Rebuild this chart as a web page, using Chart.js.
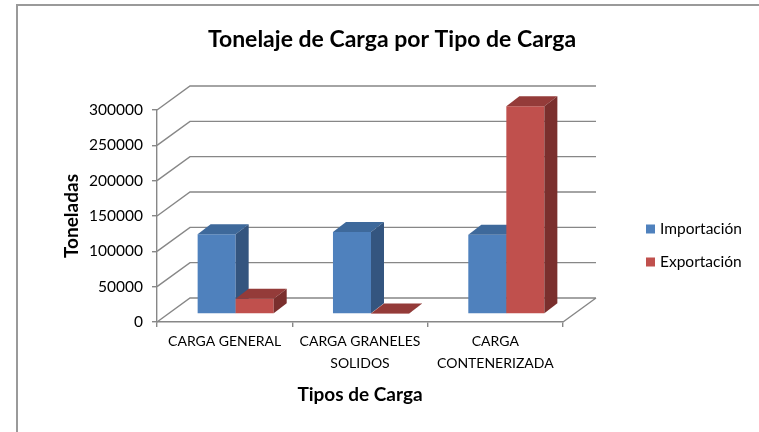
<!DOCTYPE html>
<html><head><meta charset="utf-8">
<script src="https://cdn.jsdelivr.net/npm/chart.js@4"></script>
<style>html,body{margin:0;padding:0;background:#fff}</style>
</head><body>
<canvas id="c" width="759" height="432"></canvas>
<script>
const chartTitle = 'Tonelaje de Carga por Tipo de Carga';
const xAxisTitle = 'Tipos de Carga';
const yAxisTitle = 'Toneladas';
const categories = [['CARGA GENERAL'], ['CARGA GRANELES', 'SOLIDOS'], ['CARGA', 'CONTENERIZADA']];
const seriesNames = ['Importación', 'Exportación'];
const importacion = [113000, 116000, 112000];
const exportacion = [21500, 800, 294000];
const yTicks = [0, 50000, 100000, 150000, 200000, 250000, 300000];

const FONT = 'Lato, "Open Sans", sans-serif';
const GRID = '#878787';
const BACK = {dx: 33, dy: -24};
const BAR_OFF = {dx: 11, dy: -8};
const SIDE = {dx: 13, dy: -10};
const faces = [
  {front: '#4F81BD', top: '#3E699B', side: '#34557F'},
  {front: '#C0504D', top: '#943B39', side: '#7A2F2D'}
];

const threeD = {
  id: 'threeD',
  beforeDraw(chart) {
    const ctx = chart.ctx;
    ctx.save();
    ctx.fillStyle = '#fff';
    ctx.fillRect(0, 0, chart.width, chart.height);
    ctx.strokeStyle = '#9a9a9a';
    ctx.lineWidth = 2;
    ctx.strokeRect(17, 5, chart.width + 20, chart.height + 20);
    ctx.restore();
  },
  beforeDatasetsDraw(chart) {
    const {ctx, chartArea: a, scales: {x, y}} = chart;
    ctx.save();
    ctx.strokeStyle = GRID;
    ctx.lineWidth = 1.4;
    ctx.beginPath();
    yTicks.forEach(v => {
      const py = y.getPixelForValue(v);
      ctx.moveTo(a.left, py);
      ctx.lineTo(a.left + BACK.dx, py + BACK.dy);
      ctx.lineTo(a.right + BACK.dx, py + BACK.dy);
    });
    const p0 = y.getPixelForValue(0);
    ctx.moveTo(a.right, p0);
    ctx.lineTo(a.right + BACK.dx, p0 + BACK.dy);
    ctx.stroke();
    ctx.restore();

    ctx.save();
    ctx.translate(BAR_OFF.dx, BAR_OFF.dy);
    const n = chart.data.labels.length;
    for (let i = 0; i < n; i++) {
      chart.data.datasets.forEach((ds, d) => {
        const el = chart.getDatasetMeta(d).data[i];
        if (!el) return;
        const {x: bx, y: by, base, width} = el.getProps(['x', 'y', 'base', 'width'], true);
        const l = bx - width / 2, r = bx + width / 2;
        el.draw(ctx);
        ctx.fillStyle = faces[d].top;
        ctx.beginPath();
        ctx.moveTo(l, by); ctx.lineTo(r, by);
        ctx.lineTo(r + SIDE.dx, by + SIDE.dy); ctx.lineTo(l + SIDE.dx, by + SIDE.dy);
        ctx.closePath(); ctx.fill();
        ctx.fillStyle = faces[d].side;
        ctx.beginPath();
        ctx.moveTo(r, by); ctx.lineTo(r + SIDE.dx, by + SIDE.dy);
        ctx.lineTo(r + SIDE.dx, base + SIDE.dy); ctx.lineTo(r, base);
        ctx.closePath(); ctx.fill();
      });
    }
    ctx.restore();
    return false;
  },
  afterDraw(chart) {
    const ctx = chart.ctx;
    ctx.save();
    ctx.fillStyle = '#000';
    ctx.font = 'bold 23px ' + FONT;
    ctx.textAlign = 'center';
    ctx.textBaseline = 'middle';
    ctx.fillText(chartTitle, 392, 40);
    ctx.font = '15.5px ' + FONT;
    ctx.textAlign = 'left';
    chart.data.datasets.forEach((ds, d) => {
      const cy = 229 + d * 33;
      ctx.fillStyle = ds.backgroundColor;
      ctx.fillRect(646, cy - 4.5, 9, 9);
      ctx.fillStyle = '#000';
      ctx.fillText(ds.label, 660, cy);
    });
    ctx.restore();
  }
};

new Chart(document.getElementById('c'), {
  type: 'bar',
  data: {
    labels: categories,
    datasets: [
      {label: seriesNames[0], data: importacion, backgroundColor: faces[0].front},
      {label: seriesNames[1], data: exportacion, backgroundColor: faces[1].front}
    ]
  },
  options: {
    responsive: false,
    animation: false,
    devicePixelRatio: 1,
    layout: {padding: {left: 0, top: 110, right: 196, bottom: 0}},
    datasets: {bar: {barPercentage: 1, categoryPercentage: 0.562, borderWidth: 0}},
    plugins: {legend: {display: false}, title: {display: false}, tooltip: {enabled: false}},
    scales: {
      x: {
        ticks: {font: {family: FONT, size: 14, lineHeight: 1.55}, color: '#000', maxRotation: 0, autoSkip: false, padding: 4},
        grid: {offset: true, drawOnChartArea: false, tickLength: 5, color: GRID, lineWidth: 1.4},
        border: {display: true, color: GRID, width: 1.4},
        title: {display: true, text: xAxisTitle, color: '#000', font: {family: FONT, size: 19, weight: 'bold'}, padding: {top: 0, bottom: 25.5}},
        afterFit(s) { s.height = 110; }
      },
      y: {
        min: 0, max: 300000,
        afterBuildTicks(s) { s.ticks = yTicks.map(v => ({value: v})); },
        ticks: {callback: v => String(v), font: {family: FONT, size: 15.5}, color: '#000', padding: 9},
        grid: {drawOnChartArea: false, tickLength: 5, color: GRID, lineWidth: 1.4},
        border: {display: true, color: GRID, width: 1.4},
        title: {display: true, text: yAxisTitle, color: '#000', font: {family: FONT, size: 19, weight: 'bold'}, padding: {top: 60.5, bottom: 0}},
        afterFit(s) { s.width = 157; }
      }
    }
  },
  plugins: [threeD]
});
</script>
</body></html>
